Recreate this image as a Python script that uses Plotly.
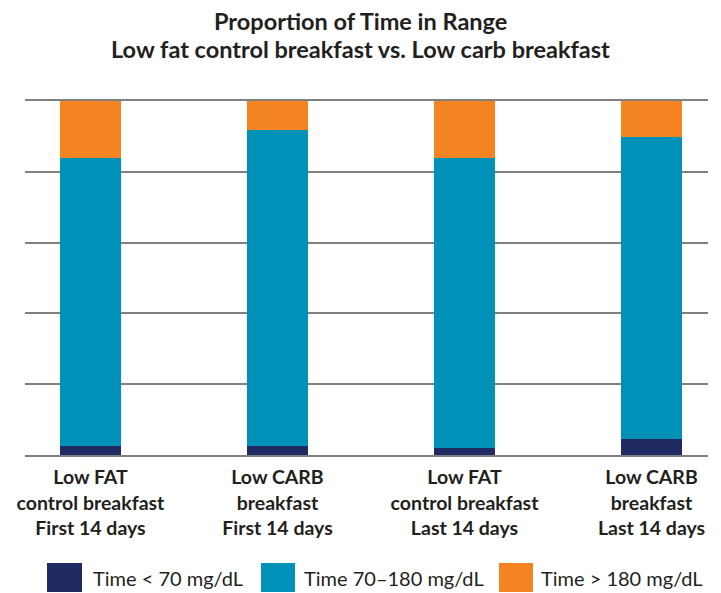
import plotly.graph_objects as go

# Categories (x axis) and stacked shares of time, in percent
categories = [
    "Low FAT<br>control breakfast<br>First 14 days",
    "Low CARB<br>breakfast<br>First 14 days",
    "Low FAT<br>control breakfast<br>Last 14 days",
    "Low CARB<br>breakfast<br>Last 14 days",
]
series_names = ["Time < 70 mg/dL", "Time 70–180 mg/dL", "Time > 180 mg/dL"]
below_70 = [2.5, 2.5, 2.0, 4.5]
in_range = [81.3, 89.3, 81.9, 85.3]
above_180 = [16.2, 8.2, 16.1, 10.2]
series_values = [below_70, in_range, above_180]
colors = ["#202b63", "#0091b9", "#f38421"]
title_lines = ["Proportion of Time in Range",
               "Low fat control breakfast vs. Low carb breakfast"]

W, H = 721, 593
ML, MR, MT, MB = 25, 13, 101, 138
PW, PH = W - ML - MR, H - MT - MB

fig = go.Figure()
for name, vals, col in zip(series_names, series_values, colors):
    fig.add_trace(go.Bar(x=categories, y=vals, name=name, marker_color=col,
                         marker_line_width=0, width=0.326, showlegend=False))

def px_x(px):
    return (px - ML) / PW

def px_y(py):
    return (H - MB - py) / PH

shapes, annotations = [], []

# Two-line bold heading, centred on the page
for line, cy in zip(title_lines, (21, 49)):
    annotations.append(dict(text=f"<b>{line}</b>", xref="paper", yref="paper",
                            x=px_x(W / 2), y=px_y(cy), xanchor="center", yanchor="middle",
                            showarrow=False,
                            font=dict(family="Lato", size=23.5, color="#231f20")))

# Legend drawn as large swatches with labels beneath the plot
legend_items = [(47, 82, 91), (261, 295, 302), (499, 533, 539)]
for (x0, x1, tx), name, col in zip(legend_items, series_names, colors):
    shapes.append(dict(type="rect", xref="paper", yref="paper",
                       x0=px_x(x0), x1=px_x(x1), y0=px_y(592), y1=px_y(563),
                       fillcolor=col, line_width=0, layer="above"))
    annotations.append(dict(text=name, xref="paper", yref="paper",
                            x=px_x(tx), y=px_y(578), xanchor="left", yanchor="middle",
                            showarrow=False,
                            font=dict(family="Lato", size=20, color="#231f20")))

fig.update_layout(
    width=W, height=H,
    margin=dict(l=ML, r=MR, t=MT, b=MB),
    paper_bgcolor="white", plot_bgcolor="white",
    barmode="stack", bargap=0,
    xaxis=dict(range=[-0.350, 3.302], showline=True, mirror=True,
               linecolor="#808080", linewidth=1.5, ticks="", showgrid=False,
               tickfont=dict(family="Lato", size=19.5, color="#231f20", weight="bold"),
               ticklabelstandoff=4),
    yaxis=dict(range=[0, 100], dtick=20, showticklabels=False, ticks="",
               showgrid=True, gridcolor="#808080", gridwidth=1.5,
               zeroline=False, showline=False),
    shapes=shapes, annotations=annotations,
)

fig.write_html("out.html")
